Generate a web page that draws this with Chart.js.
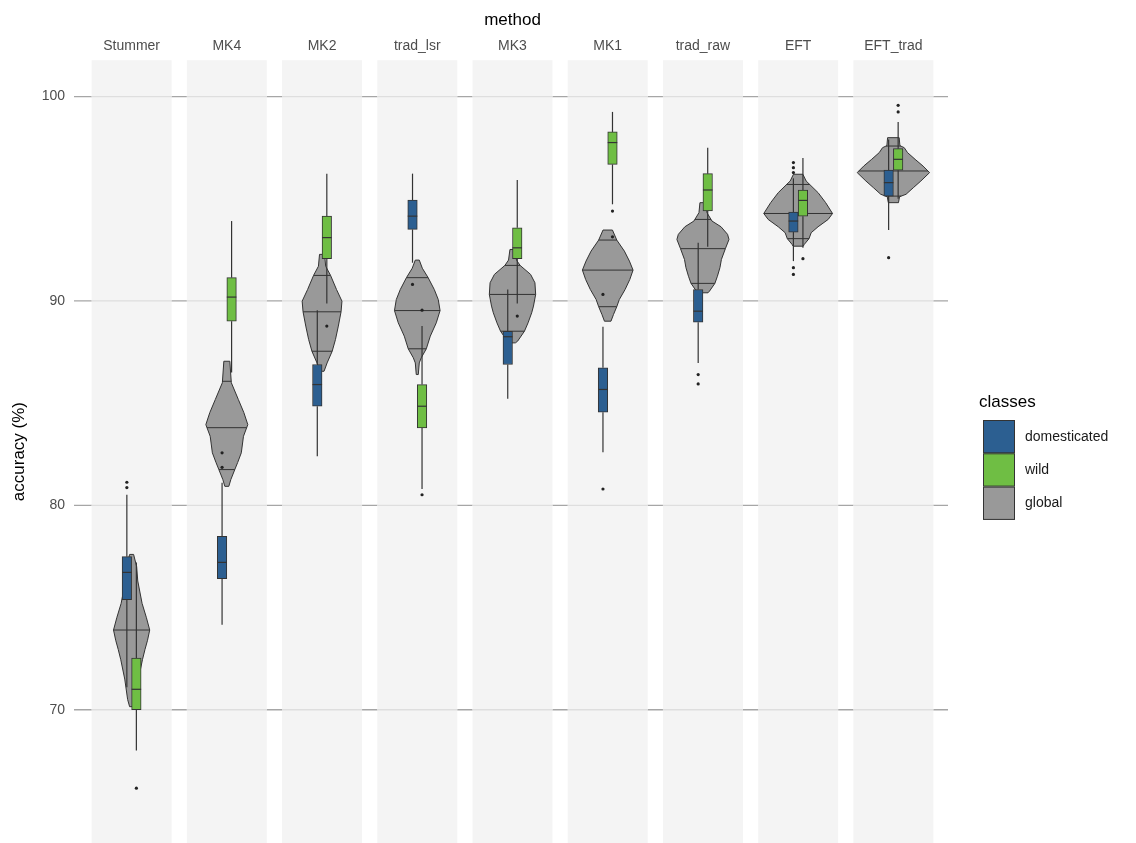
<!DOCTYPE html>
<html>
<head>
<meta charset="utf-8">
<script src="https://cdn.jsdelivr.net/npm/chart.js@4.4.1/dist/chart.umd.min.js"></script>
<style>
  html, body { margin: 0; padding: 0; background: #fff; overflow: hidden; }
  canvas { display: block; }
</style>
</head>
<body>
<canvas id="chart" width="1136" height="843"></canvas>
<script>
// --- DATOS ---
const methods = ['Stummer', 'MK4', 'MK2', 'trad_lsr', 'MK3', 'MK1', 'trad_raw', 'EFT', 'EFT_trad'];
const yTicks = [70, 80, 90, 100];

// domesticated boxplot
const domLow  = [71.1, 74.16, 82.4, 91.87, 85.21, 82.6, 86.97, 91.95, 93.47];
const domQ1   = [75.38, 76.41, 84.85, 93.5, 86.89, 84.56, 88.96, 93.37, 95.13];
const domMed  = [76.72, 77.21, 85.91, 94.15, 88.25, 85.67, 89.5, 93.91, 95.79];
const domQ3   = [77.49, 78.48, 86.89, 94.94, 88.52, 86.73, 90.56, 94.35, 96.4];
const domHigh = [80.52, 81.1, 89.55, 96.23, 90.56, 88.74, 92.85, 96.0, 97.9];
const domOut  = [[80.87, 81.13], [81.86, 82.57], [], [90.81], [], [80.8, 90.32], [85.94, 86.4], [91.3, 91.63, 96.28, 96.52, 96.77], [92.12]];

// wild boxplot
const wildLow  = [68.0, 86.5, 89.88, 80.8, 89.88, 94.73, 92.65, 92.6, 95.0];
const wildQ1   = [70.0, 89.01, 92.07, 83.79, 92.07, 96.68, 94.4, 94.15, 96.4];
const wildMed  = [71.0, 90.19, 93.1, 84.85, 92.6, 97.75, 95.43, 94.92, 96.93];
const wildQ3   = [72.53, 91.14, 94.15, 85.91, 93.58, 98.27, 96.23, 95.43, 97.45];
const wildHigh = [77.2, 93.91, 96.23, 88.77, 95.92, 99.25, 97.5, 97.0, 98.76];
const wildOut  = [[66.16], [], [88.77], [80.52, 89.55], [89.26], [93.14, 94.4], [], [92.07], [99.25, 99.57]];

// global violin (valores de arriba abajo, densidad relativa)
const violinValues = [
  [77.6, 77.0, 76.3, 75.2, 74.5, 73.9, 73.4, 72.95, 72.45, 71.5, 70.5, 70.15],
  [87.05, 86.0, 85.18, 84.54, 83.95, 83.38, 82.57, 82.1, 81.75, 81.26, 80.93],
  [92.28, 91.7, 91.25, 90.56, 89.99, 89.47, 88.77, 88.11, 87.54, 86.97, 86.56],
  [92.0, 91.6, 91.14, 90.56, 90.07, 89.53, 88.93, 88.28, 87.66, 87.22, 86.97, 86.4],
  [92.52, 92.0, 91.74, 91.3, 90.89, 90.32, 89.75, 89.42, 88.93, 88.52, 88.03, 87.95],
  [93.47, 92.98, 92.44, 91.95, 91.51, 91.05, 90.56, 90.07, 89.72, 89.34, 89.01],
  [94.81, 94.32, 93.91, 93.63, 93.26, 93.01, 92.56, 92.03, 91.63, 91.21, 90.86, 90.48, 90.4],
  [96.2, 95.87, 95.3, 94.81, 94.28, 93.99, 93.63, 93.34, 93.05, 92.77, 92.68],
  [97.99, 97.6, 97.5, 97.26, 96.93, 96.6, 96.28, 95.87, 95.54, 95.22, 95.1, 94.81]
];
const violinDensity = [
  [0.055, 0.14, 0.17, 0.29, 0.41, 0.50, 0.44, 0.37, 0.30, 0.19, 0.11, 0.055],
  [0.083, 0.124, 0.318, 0.47, 0.58, 0.46, 0.40, 0.30, 0.22, 0.11, 0.055],
  [0.07, 0.10, 0.235, 0.40, 0.55, 0.525, 0.45, 0.37, 0.28, 0.14, 0.055],
  [0.055, 0.14, 0.30, 0.47, 0.58, 0.63, 0.525, 0.36, 0.25, 0.11, 0.055, 0.028],
  [0.07, 0.11, 0.21, 0.50, 0.62, 0.64, 0.58, 0.53, 0.43, 0.33, 0.14, 0.08],
  [0.13, 0.25, 0.46, 0.60, 0.70, 0.61, 0.48, 0.32, 0.25, 0.16, 0.09],
  [0.083, 0.11, 0.25, 0.50, 0.68, 0.72, 0.62, 0.51, 0.47, 0.40, 0.33, 0.18, 0.14],
  [0.13, 0.22, 0.55, 0.76, 0.95, 0.83, 0.55, 0.36, 0.30, 0.17, 0.14],
  [0.16, 0.18, 0.30, 0.39, 0.60, 0.82, 1.0, 0.76, 0.55, 0.35, 0.17, 0.14]
];
const violinQuantiles = [
  [73.9],
  [86.07, 83.8, 81.75],
  [91.25, 89.47, 87.54],
  [91.14, 89.53, 87.66],
  [91.74, 90.32, 88.52],
  [92.98, 91.51, 89.72],
  [93.99, 92.56, 90.86],
  [95.7, 94.28, 93.05],
  [97.58, 96.36, 95.13]
];

// --- ESTILOS ---
const colDom = '#2c5f91';
const colWild = '#6fbe44';
const colGlobal = '#999999';
const colLine = '#333333';
const font = '"Liberation Sans", Arial, sans-serif';
const violinMaxHalf = 0.38; // en unidades de categoría
const dodge = 0.05;

function interpDensity(vals, dens, q) {
  for (let k = 0; k < vals.length - 1; k++) {
    if (q <= vals[k] && q >= vals[k + 1]) {
      const t = (vals[k] - q) / (vals[k] - vals[k + 1]);
      return dens[k] + t * (dens[k + 1] - dens[k]);
    }
  }
  return 0;
}

function seg(ctx, x1, y1, x2, y2) {
  ctx.beginPath();
  ctx.moveTo(x1, y1);
  ctx.lineTo(x2, y2);
  ctx.stroke();
}

const facetPlugin = {
  id: 'facets',
  beforeDatasetsDraw(chart) {
    const { ctx, chartArea: a, scales } = chart;
    const xl = scales.xl, y = scales.y;
    const step = xl.getPixelForValue(1) - xl.getPixelForValue(0);
    ctx.save();

    // lineas de fondo (oscuras entre paneles)
    ctx.lineWidth = 1.3;
    ctx.strokeStyle = '#a6a6a6';
    yTicks.forEach(v => {
      const py = y.getPixelForValue(v);
      seg(ctx, a.left - 10, py, a.right + 7, py);
    });

    // paneles
    methods.forEach((m, i) => {
      const cx = xl.getPixelForValue(i);
      ctx.fillStyle = '#f4f4f4';
      ctx.fillRect(cx - 0.42 * step, a.top, 0.84 * step, a.bottom - a.top);
      ctx.strokeStyle = '#dedede';
      ctx.lineWidth = 1.3;
      yTicks.forEach(v => {
        const py = y.getPixelForValue(v);
        seg(ctx, cx - 0.42 * step, py, cx + 0.42 * step, py);
      });
    });

    // violines
    methods.forEach((m, i) => {
      const cx = xl.getPixelForValue(i);
      const vals = violinValues[i], dens = violinDensity[i];
      const hw = d => d * violinMaxHalf * step;
      ctx.beginPath();
      vals.forEach((v, k) => {
        const px = cx + hw(dens[k]), py = y.getPixelForValue(v);
        if (k === 0) ctx.moveTo(px, py); else ctx.lineTo(px, py);
      });
      for (let k = vals.length - 1; k >= 0; k--) {
        ctx.lineTo(cx - hw(dens[k]), y.getPixelForValue(vals[k]));
      }
      ctx.closePath();
      ctx.fillStyle = colGlobal;
      ctx.fill();
      ctx.strokeStyle = colLine;
      ctx.lineWidth = 1;
      ctx.stroke();
      violinQuantiles[i].forEach(q => {
        const d = interpDensity(vals, dens, q);
        const py = y.getPixelForValue(q);
        seg(ctx, cx - hw(d), py, cx + hw(d), py);
      });
    });
    ctx.restore();
  },
  afterDatasetsDraw(chart) {
    const { ctx, scales } = chart;
    const y = scales.y;
    const groups = [
      { meta: chart.getDatasetMeta(0), low: domLow, q1: domQ1, med: domMed, q3: domQ3, high: domHigh },
      { meta: chart.getDatasetMeta(1), low: wildLow, q1: wildQ1, med: wildMed, q3: wildQ3, high: wildHigh }
    ];
    ctx.save();
    ctx.strokeStyle = colLine;
    ctx.lineWidth = 1.2;
    groups.forEach(g => {
      g.meta.data.forEach((bar, i) => {
        const x = bar.x, w = bar.width;
        seg(ctx, x, y.getPixelForValue(g.q3[i]), x, y.getPixelForValue(g.high[i]));
        seg(ctx, x, y.getPixelForValue(g.q1[i]), x, y.getPixelForValue(g.low[i]));
        const pm = y.getPixelForValue(g.med[i]);
        seg(ctx, x - w / 2, pm, x + w / 2, pm);
      });
    });
    ctx.restore();
  },
  afterDraw(chart) {
    const { ctx } = chart;
    ctx.save();
    ctx.textBaseline = 'middle';
    ctx.fillStyle = '#000';
    ctx.font = '17px ' + font;
    ctx.fillText('classes', 979, 402);
    const keys = [['domesticated', colDom], ['wild', colWild], ['global', colGlobal]];
    keys.forEach(([label, c], k) => {
      const top = 420 + k * 33.3;
      ctx.fillStyle = c;
      ctx.fillRect(983, top, 32, 33.3);
      ctx.strokeStyle = colLine;
      ctx.lineWidth = 1;
      ctx.strokeRect(983.5, top + 0.5, 31, 32.3);
      ctx.fillStyle = '#1a1a1a';
      ctx.font = '14px ' + font;
      ctx.fillText(label, 1025, top + 17);
    });
    ctx.restore();
  }
};

const datasets = [
  {
    type: 'bar', label: 'domesticated', xAxisID: 'xl', grouped: false,
    data: domQ1.map((q, i) => ({ x: i - dodge, y: [q, domQ3[i]] })),
    backgroundColor: colDom, borderColor: colLine, borderWidth: 1, borderSkipped: false,
    categoryPercentage: 1.0, barPercentage: 1.0
  },
  {
    type: 'bar', label: 'wild', xAxisID: 'xl', grouped: false,
    data: wildQ1.map((q, i) => ({ x: i + dodge, y: [q, wildQ3[i]] })),
    backgroundColor: colWild, borderColor: colLine, borderWidth: 1, borderSkipped: false,
    categoryPercentage: 1.0, barPercentage: 1.0
  },
  {
    type: 'scatter', label: 'domOut', xAxisID: 'xl',
    data: domOut.flatMap((arr, i) => arr.map(v => ({ x: i - dodge, y: v }))),
    pointRadius: 1.6, pointBackgroundColor: '#222', pointBorderWidth: 0
  },
  {
    type: 'scatter', label: 'wildOut', xAxisID: 'xl',
    data: wildOut.flatMap((arr, i) => arr.map(v => ({ x: i + dodge, y: v }))),
    pointRadius: 1.6, pointBackgroundColor: '#222', pointBorderWidth: 0
  }
];

new Chart(document.getElementById('chart'), {
  data: { labels: methods, datasets },
  options: {
    responsive: false,
    animation: false,
    layout: { autoPadding: false, padding: { top: 0, right: 195, bottom: 0, left: 0 } },
    plugins: { legend: { display: false }, tooltip: { enabled: false } },
    scales: {
      x: {
        type: 'category', position: 'top', offset: true,
        grid: { display: false, drawTicks: false }, border: { display: false },
        ticks: { color: '#4d4d4d', font: { family: font, size: 14 }, padding: 6, autoSkip: false, maxRotation: 0 },
        title: { display: true, text: 'method', color: '#000', font: { family: font, size: 17 }, padding: { top: 10, bottom: 1 } }
      },
      xl: {
        type: 'linear', position: 'bottom', min: -0.5, max: 8.5, display: false,
        offset: false, grid: { offset: false }
      },
      y: {
        type: 'linear', min: 63.48, max: 101.78,
        grid: { display: false, drawTicks: false }, border: { display: false },
        afterBuildTicks: s => { s.ticks = yTicks.map(v => ({ value: v })); },
        afterFit: s => { s.width = 84; s.paddingTop = 0; s.paddingBottom = 0; },
        ticks: { color: '#4d4d4d', font: { family: font, size: 14 }, padding: 19 },
        title: { display: true, text: 'accuracy (%)', color: '#000', font: { family: font, size: 17 }, padding: { top: 9, bottom: 0 } }
      }
    }
  },
  plugins: [facetPlugin]
});
</script>
</body>
</html>
